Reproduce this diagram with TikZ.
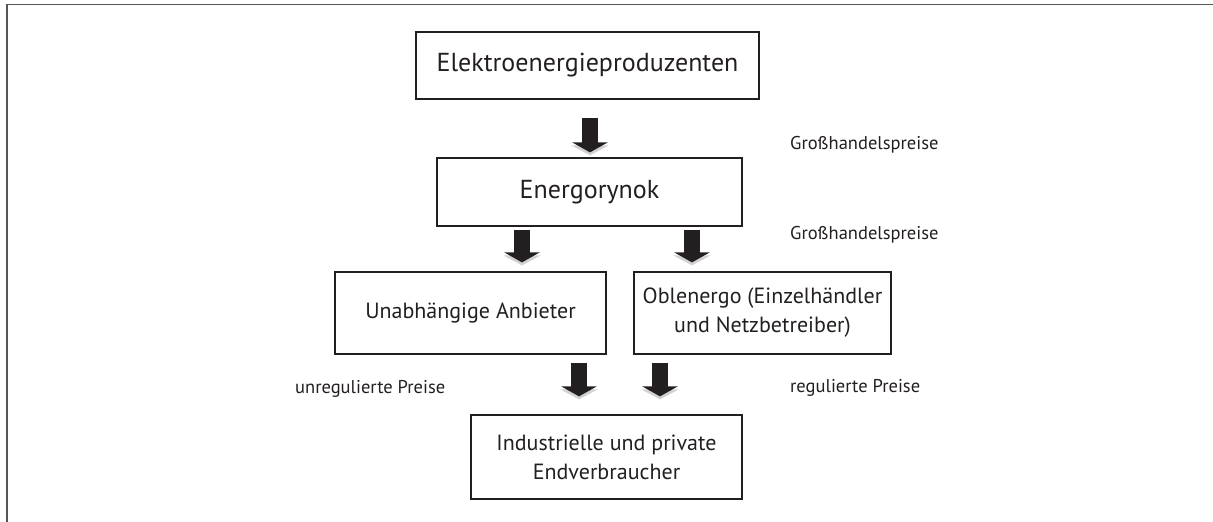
\documentclass[tikz,border=0pt]{standalone}
\usepackage{fontspec}
\setmainfont{PT Sans}
\usetikzlibrary{arrows.meta,calc}
\definecolor{ink}{RGB}{35,31,32}
\definecolor{frameg}{RGB}{85,85,85}
\tikzset{
  box/.style={draw=ink, line width=1.2pt, minimum width=#1, inner sep=0pt, align=center, text=ink},
  bigtxt/.style={font=\fontsize{26}{30}\selectfont},
  midtxt/.style={font=\fontsize{22}{29}\selectfont},
  lbl/.style={anchor=west, inner sep=0pt, text=ink, font=\fontsize{18.5}{22}\selectfont},
  blockarr/.style={draw=ink, line width=16pt, -{Triangle[width=35pt,length=10pt]},
    preaction={draw=gray!35, line width=16pt, -{Triangle[width=37pt,length=10pt]}, transform canvas={yshift=-3pt}}},
}
\begin{document}
\begin{tikzpicture}[x=1pt,y=-1pt]
\useasboundingbox (0,0) rectangle (1213,522);
\draw[frameg, line width=1.5pt] (7,522) -- (7,4.5) -- (1213,4.5);

\node[box=343pt, minimum height=67pt, bigtxt] (e1) at (587.5,65.5) {Elektroenergieproduzenten};
\node[box=305pt, minimum height=68pt, bigtxt] (e2) at (589.5,192) {Energorynok};
\node[box=271pt, minimum height=82pt, midtxt] (u) at (470.5,313) {Unabhängige Anbieter};
\node[box=257pt, minimum height=82pt, midtxt] (o) at (762.5,313) {Oblenergo (Einzelhändler\\und Netzbetreiber)};
\node[box=271pt, minimum height=84pt, midtxt] (c) at (606.5,457) {Industrielle und private\\Endverbraucher};

\node[lbl] (l1) at (790,145) {Großhandelspreise};
\node[lbl] (l2) at (790,235) {Großhandelspreise};
\node[lbl] (l3) at (295,389) {unregulierte Preise};
\node[lbl] (l4) at (790,388) {regulierte Preise};

\draw[blockarr] ($(e1.south)+(2.5,18)$) -- ($(e2.north)+(0.5,-5)$);
\draw[blockarr] ($(e2.south)+(-67.5,3)$) -- ($(u.north)+(51.5,-9)$);
\draw[blockarr] ($(e2.south)+(102.5,3)$) -- ($(o.north)+(-70.5,-9)$);
\draw[blockarr] ($(u.south)+(108.5,8)$) -- ($(c.north)+(-27.5,-18)$);
\draw[blockarr] ($(o.south)+(-102.5,8)$) -- ($(c.north)+(53.5,-18)$);
\end{tikzpicture}
\end{document}
